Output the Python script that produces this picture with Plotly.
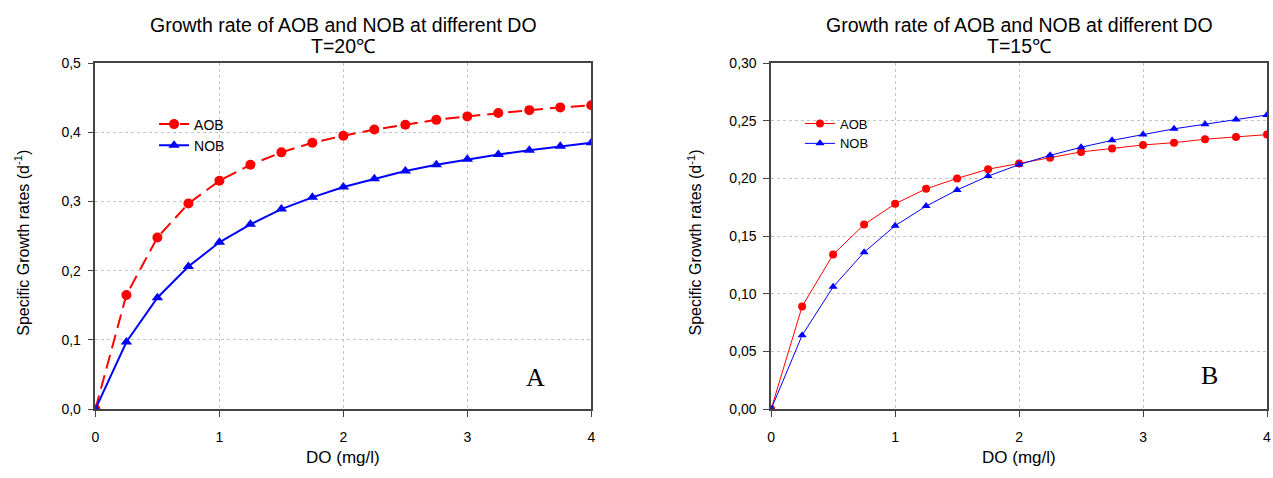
import plotly.graph_objects as go

W, H = 1273, 478

do_vals = [0, 0.25, 0.5, 0.75, 1.0, 1.25, 1.5, 1.75, 2.0, 2.25, 2.5, 2.75, 3.0, 3.25, 3.5, 3.75, 4.0]

aob_20 = [0, 0.165, 0.248, 0.297, 0.330, 0.353, 0.371, 0.385, 0.395, 0.404, 0.411, 0.418, 0.423, 0.428, 0.432, 0.436, 0.439]
nob_20 = [0, 0.097, 0.161, 0.206, 0.241, 0.267, 0.289, 0.306, 0.321, 0.333, 0.344, 0.353, 0.361, 0.368, 0.374, 0.380, 0.385]

aob_15 = [0, 0.089, 0.134, 0.160, 0.178, 0.191, 0.200, 0.208, 0.213, 0.218, 0.223, 0.226, 0.229, 0.231, 0.234, 0.236, 0.238]
nob_15 = [0, 0.064, 0.106, 0.136, 0.159, 0.176, 0.190, 0.202, 0.212, 0.220, 0.227, 0.233, 0.238, 0.243, 0.247, 0.251, 0.255]

x_ticks = [0, 1, 2, 3, 4]
y_ticks_a = [0, 0.1, 0.2, 0.3, 0.4, 0.5]
y_labels_a = ["0,0", "0,1", "0,2", "0,3", "0,4", "0,5"]
y_ticks_b = [0, 0.05, 0.10, 0.15, 0.20, 0.25, 0.30]
y_labels_b = ["0,00", "0,05", "0,10", "0,15", "0,20", "0,25", "0,30"]

title_text = "Growth rate of AOB and NOB at different DO"
FONT = "Liberation Sans, Arial, sans-serif"
SERIF = "Liberation Serif, Times New Roman, serif"

fig = go.Figure()

fig.add_trace(go.Scatter(x=do_vals, y=aob_20, name="AOB", mode="lines+markers",
                         line=dict(color="#ff0000", width=2, dash="14px,7px"),
                         marker=dict(symbol="circle", size=10, color="#ff0000"),
                         xaxis="x", yaxis="y", legend="legend"))
fig.add_trace(go.Scatter(x=do_vals, y=nob_20, name="NOB", mode="lines+markers",
                         line=dict(color="#0000ff", width=2),
                         marker=dict(symbol="triangle-up", size=10, color="#0000ff"),
                         xaxis="x", yaxis="y", legend="legend"))
fig.add_trace(go.Scatter(x=do_vals, y=aob_15, name="AOB", mode="lines+markers",
                         line=dict(color="#ff0000", width=1),
                         marker=dict(symbol="circle", size=8, color="#ff0000"),
                         xaxis="x2", yaxis="y2", legend="legend2"))
fig.add_trace(go.Scatter(x=do_vals, y=nob_15, name="NOB", mode="lines+markers",
                         line=dict(color="#0000ff", width=1),
                         marker=dict(symbol="triangle-up", size=8, color="#0000ff"),
                         xaxis="x2", yaxis="y2", legend="legend2"))

ydom = [1 - 415 / H, 1 - 57 / H]
axis_common = dict(showline=True, linecolor="#444", linewidth=1.5, mirror=True,
                   ticks="outside", ticklen=6, tickcolor="#444",
                   showgrid=True, gridcolor="#c4c4c4", griddash="dot", gridwidth=1,
                   zeroline=False, tickfont=dict(size=14, color="#000", family=FONT))

fig.update_layout(
    width=W, height=H,
    margin=dict(l=0, r=0, t=0, b=0),
    paper_bgcolor="white", plot_bgcolor="white",
    font=dict(family=FONT, color="#000"),
    xaxis=dict(domain=[92 / W, 591 / W], range=[0, 4], tickvals=x_ticks,
               anchor="y", ticklabelstandoff=8, **axis_common),
    yaxis=dict(domain=ydom, range=[0, 0.5], tickvals=y_ticks_a, ticktext=y_labels_a,
               anchor="x", ticklabelstandoff=4, **axis_common),
    xaxis2=dict(domain=[772 / W, 1271 / W], range=[0, 4], tickvals=x_ticks,
                anchor="y2", ticklabelstandoff=8, **axis_common),
    yaxis2=dict(domain=ydom, range=[0, 0.30], tickvals=y_ticks_b, ticktext=y_labels_b,
                anchor="x2", ticklabelstandoff=4, **axis_common),
    legend=dict(x=151 / W, y=1 - 104 / H, xanchor="left", yanchor="top",
                bgcolor="rgba(0,0,0,0)", font=dict(size=14, family=FONT),
                tracegroupgap=0, itemwidth=30),
    legend2=dict(x=801 / W, y=1 - 104 / H, xanchor="left", yanchor="top",
                 bgcolor="rgba(0,0,0,0)", font=dict(size=13, family=FONT),
                 tracegroupgap=0, itemwidth=30),
)

ann = []
for cx, temp in [((92 + 591) / 2, "T=20℃"), ((772 + 1271) / 2, "T=15℃")]:
    ann.append(dict(x=cx / W, y=1 - 18 / H, xref="paper", yref="paper",
                    text=title_text, showarrow=False, font=dict(size=19.5, family=FONT),
                    xanchor="center", yanchor="middle"))
    ann.append(dict(x=cx / W, y=1 - 39 / H, xref="paper", yref="paper",
                    text=temp, showarrow=False, font=dict(size=19.5, family=FONT),
                    xanchor="center", yanchor="middle"))
    ann.append(dict(x=cx / W, y=1 - 465 / H, xref="paper", yref="paper",
                    text="DO (mg/l)", showarrow=False, font=dict(size=17, family=FONT),
                    xanchor="center", yanchor="middle"))

for px in [18, 695]:
    ann.append(dict(x=px / W, y=1 - 243 / H, xref="paper", yref="paper",
                    text="Specific Growth rates (d<sup>-1</sup>)",
                    textangle=-90, showarrow=False, font=dict(size=16, family=FONT),
                    xanchor="center", yanchor="middle"))

ann.append(dict(x=535 / W, y=1 - 382 / H, xref="paper", yref="paper", text="A",
                showarrow=False, font=dict(size=26, family=SERIF),
                xanchor="center", yanchor="middle"))
ann.append(dict(x=1213 / W, y=1 - 380 / H, xref="paper", yref="paper", text="B",
                showarrow=False, font=dict(size=26, family=SERIF),
                xanchor="center", yanchor="middle"))

fig.update_layout(annotations=ann)
fig.write_html("out.html")
